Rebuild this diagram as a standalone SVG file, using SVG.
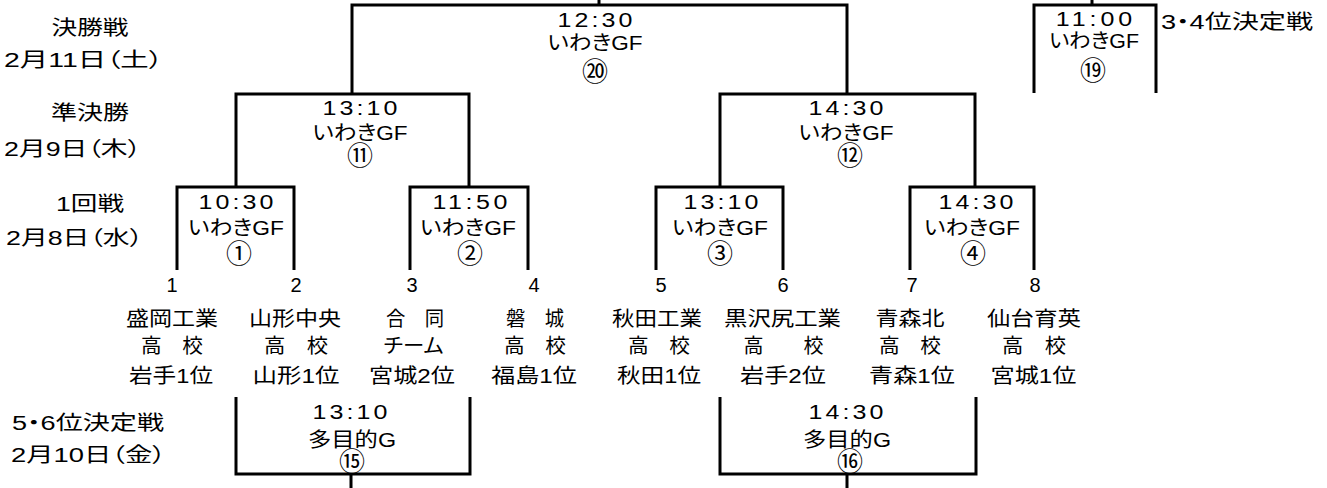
<svg xmlns="http://www.w3.org/2000/svg" width="1327" height="488" viewBox="0 0 1327 488">
<style>
.bg{fill:#fff}
.ln{fill:none;stroke:#000;stroke-width:3;stroke-linejoin:miter;stroke-linecap:butt}
text{font-family:"Liberation Sans","Noto Sans CJK JP",sans-serif;font-size:20px;fill:#000;text-anchor:middle;font-feature-settings:"palt" 1}
.tm{transform:scaleX(1.25);transform-box:fill-box;transform-origin:center}
.cn{font-family:"Noto Sans CJK JP",sans-serif;font-size:26px}
</style>
<rect class="bg" x="0" y="0" width="1327" height="488"/>
<g id="connectors">
<path class="ln" d="M599,0V5M352,94V5H847V94"/>
<path class="ln" d="M1092,0V5M1034,93V5H1156V93"/>
<path class="ln" d="M236,187V94H469V187"/>
<path class="ln" d="M720,187V94H975V187"/>
<path class="ln" d="M177,270V187H294V270"/>
<path class="ln" d="M410,270V187H528V270"/>
<path class="ln" d="M656,270V187H783V270"/>
<path class="ln" d="M910,270V187H1034V270"/>
<path class="ln" d="M236,397V474H470V397M351,474V488"/>
<path class="ln" d="M720,397V474H976V397M847,474V488"/>
</g>
<g id="round-labels">
<text x="90" y="34.5" textLength="77" lengthAdjust="spacingAndGlyphs">決勝戦</text>
<text x="83.5" y="67" textLength="159" lengthAdjust="spacingAndGlyphs">2月11日（土）</text>
<text x="90" y="120" textLength="78" lengthAdjust="spacingAndGlyphs">準決勝</text>
<text x="72.5" y="156" textLength="137" lengthAdjust="spacingAndGlyphs">2月9日（木）</text>
<text x="90" y="211" textLength="68" lengthAdjust="spacingAndGlyphs">1回戦</text>
<text x="74.5" y="245" textLength="137" lengthAdjust="spacingAndGlyphs">2月8日（水）</text>
<text x="88" y="430" textLength="152" lengthAdjust="spacingAndGlyphs">5・6位決定戦</text>
<text x="88.5" y="462" textLength="155" lengthAdjust="spacingAndGlyphs">2月10日（金）</text>
<text x="1237" y="29" textLength="152" lengthAdjust="spacingAndGlyphs">3・4位決定戦</text>
</g>
<g id="match-20">
<text class="tm" x="595" y="27" textLength="60" lengthAdjust="spacing">12:30</text>
<text x="595" y="50" textLength="95" lengthAdjust="spacingAndGlyphs">いわきGF</text>
<text class="cn" x="595" y="81">⑳</text>
</g>
<g id="match-19">
<text class="tm" x="1094" y="26.5" textLength="61" lengthAdjust="spacing">11:00</text>
<text x="1094" y="48" textLength="90" lengthAdjust="spacingAndGlyphs">いわきGF</text>
<text class="cn" x="1093" y="80">⑲</text>
</g>
<g id="match-11">
<text class="tm" x="360" y="115" textLength="60" lengthAdjust="spacing">13:10</text>
<text x="360" y="140" textLength="95" lengthAdjust="spacingAndGlyphs">いわきGF</text>
<text class="cn" x="360" y="165">⑪</text>
</g>
<g id="match-12">
<text class="tm" x="846" y="115" textLength="60" lengthAdjust="spacing">14:30</text>
<text x="846" y="140" textLength="95" lengthAdjust="spacingAndGlyphs">いわきGF</text>
<text class="cn" x="850" y="165">⑫</text>
</g>
<g id="match-1">
<text class="tm" x="236" y="209" textLength="60" lengthAdjust="spacing">10:30</text>
<text x="236" y="235" textLength="96" lengthAdjust="spacingAndGlyphs">いわきGF</text>
<text class="cn" x="239" y="263">①</text>
</g>
<g id="match-2">
<text class="tm" x="470" y="209" textLength="60" lengthAdjust="spacing">11:50</text>
<text x="468" y="235" textLength="96" lengthAdjust="spacingAndGlyphs">いわきGF</text>
<text class="cn" x="470" y="263">②</text>
</g>
<g id="match-3">
<text class="tm" x="721" y="209" textLength="60" lengthAdjust="spacing">13:10</text>
<text x="720" y="235" textLength="96" lengthAdjust="spacingAndGlyphs">いわきGF</text>
<text class="cn" x="720" y="263">③</text>
</g>
<g id="match-4">
<text class="tm" x="976" y="209" textLength="60" lengthAdjust="spacing">14:30</text>
<text x="972" y="235" textLength="96" lengthAdjust="spacingAndGlyphs">いわきGF</text>
<text class="cn" x="973" y="263">④</text>
</g>
<g id="match-15">
<text class="tm" x="350" y="419" textLength="60" lengthAdjust="spacing">13:10</text>
<text x="352" y="447" textLength="88" lengthAdjust="spacingAndGlyphs">多目的G</text>
<text class="cn" x="352" y="471">⑮</text>
</g>
<g id="match-16">
<text class="tm" x="846" y="419" textLength="60" lengthAdjust="spacing">14:30</text>
<text x="847" y="447" textLength="88" lengthAdjust="spacingAndGlyphs">多目的G</text>
<text class="cn" x="850" y="471">⑯</text>
</g>
<g id="team-1">
<text x="172" y="292">1</text>
<text x="172" y="325.5" textLength="92" lengthAdjust="spacingAndGlyphs">盛岡工業</text>
<text x="172" y="352.5" textLength="62" lengthAdjust="spacingAndGlyphs">高　校</text>
<text x="171" y="383" textLength="84" lengthAdjust="spacingAndGlyphs">岩手1位</text>
</g>
<g id="team-2">
<text x="296" y="292">2</text>
<text x="295" y="325.5" textLength="92" lengthAdjust="spacingAndGlyphs">山形中央</text>
<text x="296" y="352.5" textLength="64" lengthAdjust="spacingAndGlyphs">高　校</text>
<text x="296" y="383" textLength="87" lengthAdjust="spacingAndGlyphs">山形1位</text>
</g>
<g id="team-3">
<text x="412" y="292">3</text>
<text x="415" y="325.5" textLength="58" lengthAdjust="spacingAndGlyphs">合　同</text>
<text x="413.5" y="352.5" textLength="60" lengthAdjust="spacingAndGlyphs">チーム</text>
<text x="412" y="383" textLength="86" lengthAdjust="spacingAndGlyphs">宮城2位</text>
</g>
<g id="team-4">
<text x="534" y="292">4</text>
<text x="535" y="325.5" textLength="58" lengthAdjust="spacingAndGlyphs">磐　城</text>
<text x="535" y="352.5" textLength="62" lengthAdjust="spacingAndGlyphs">高　校</text>
<text x="534" y="383" textLength="86" lengthAdjust="spacingAndGlyphs">福島1位</text>
</g>
<g id="team-5">
<text x="661" y="292">5</text>
<text x="657" y="325.5" textLength="90" lengthAdjust="spacingAndGlyphs">秋田工業</text>
<text x="659" y="352.5" textLength="62" lengthAdjust="spacingAndGlyphs">高　校</text>
<text x="659" y="383" textLength="84" lengthAdjust="spacingAndGlyphs">秋田1位</text>
</g>
<g id="team-6">
<text x="783" y="292">6</text>
<text x="782.5" y="325.5" textLength="117" lengthAdjust="spacingAndGlyphs">黒沢尻工業</text>
<text x="783.5" y="352.5" textLength="80" lengthAdjust="spacingAndGlyphs">高　　校</text>
<text x="783" y="383" textLength="86" lengthAdjust="spacingAndGlyphs">岩手2位</text>
</g>
<g id="team-7">
<text x="912" y="292">7</text>
<text x="910" y="325.5" textLength="69" lengthAdjust="spacingAndGlyphs">青森北</text>
<text x="910" y="352.5" textLength="62" lengthAdjust="spacingAndGlyphs">高　校</text>
<text x="912" y="383" textLength="86" lengthAdjust="spacingAndGlyphs">青森1位</text>
</g>
<g id="team-8">
<text x="1035" y="292">8</text>
<text x="1034" y="325.5" textLength="94" lengthAdjust="spacingAndGlyphs">仙台育英</text>
<text x="1034" y="352.5" textLength="64" lengthAdjust="spacingAndGlyphs">高　校</text>
<text x="1033.5" y="383" textLength="86" lengthAdjust="spacingAndGlyphs">宮城1位</text>
</g>
</svg>
